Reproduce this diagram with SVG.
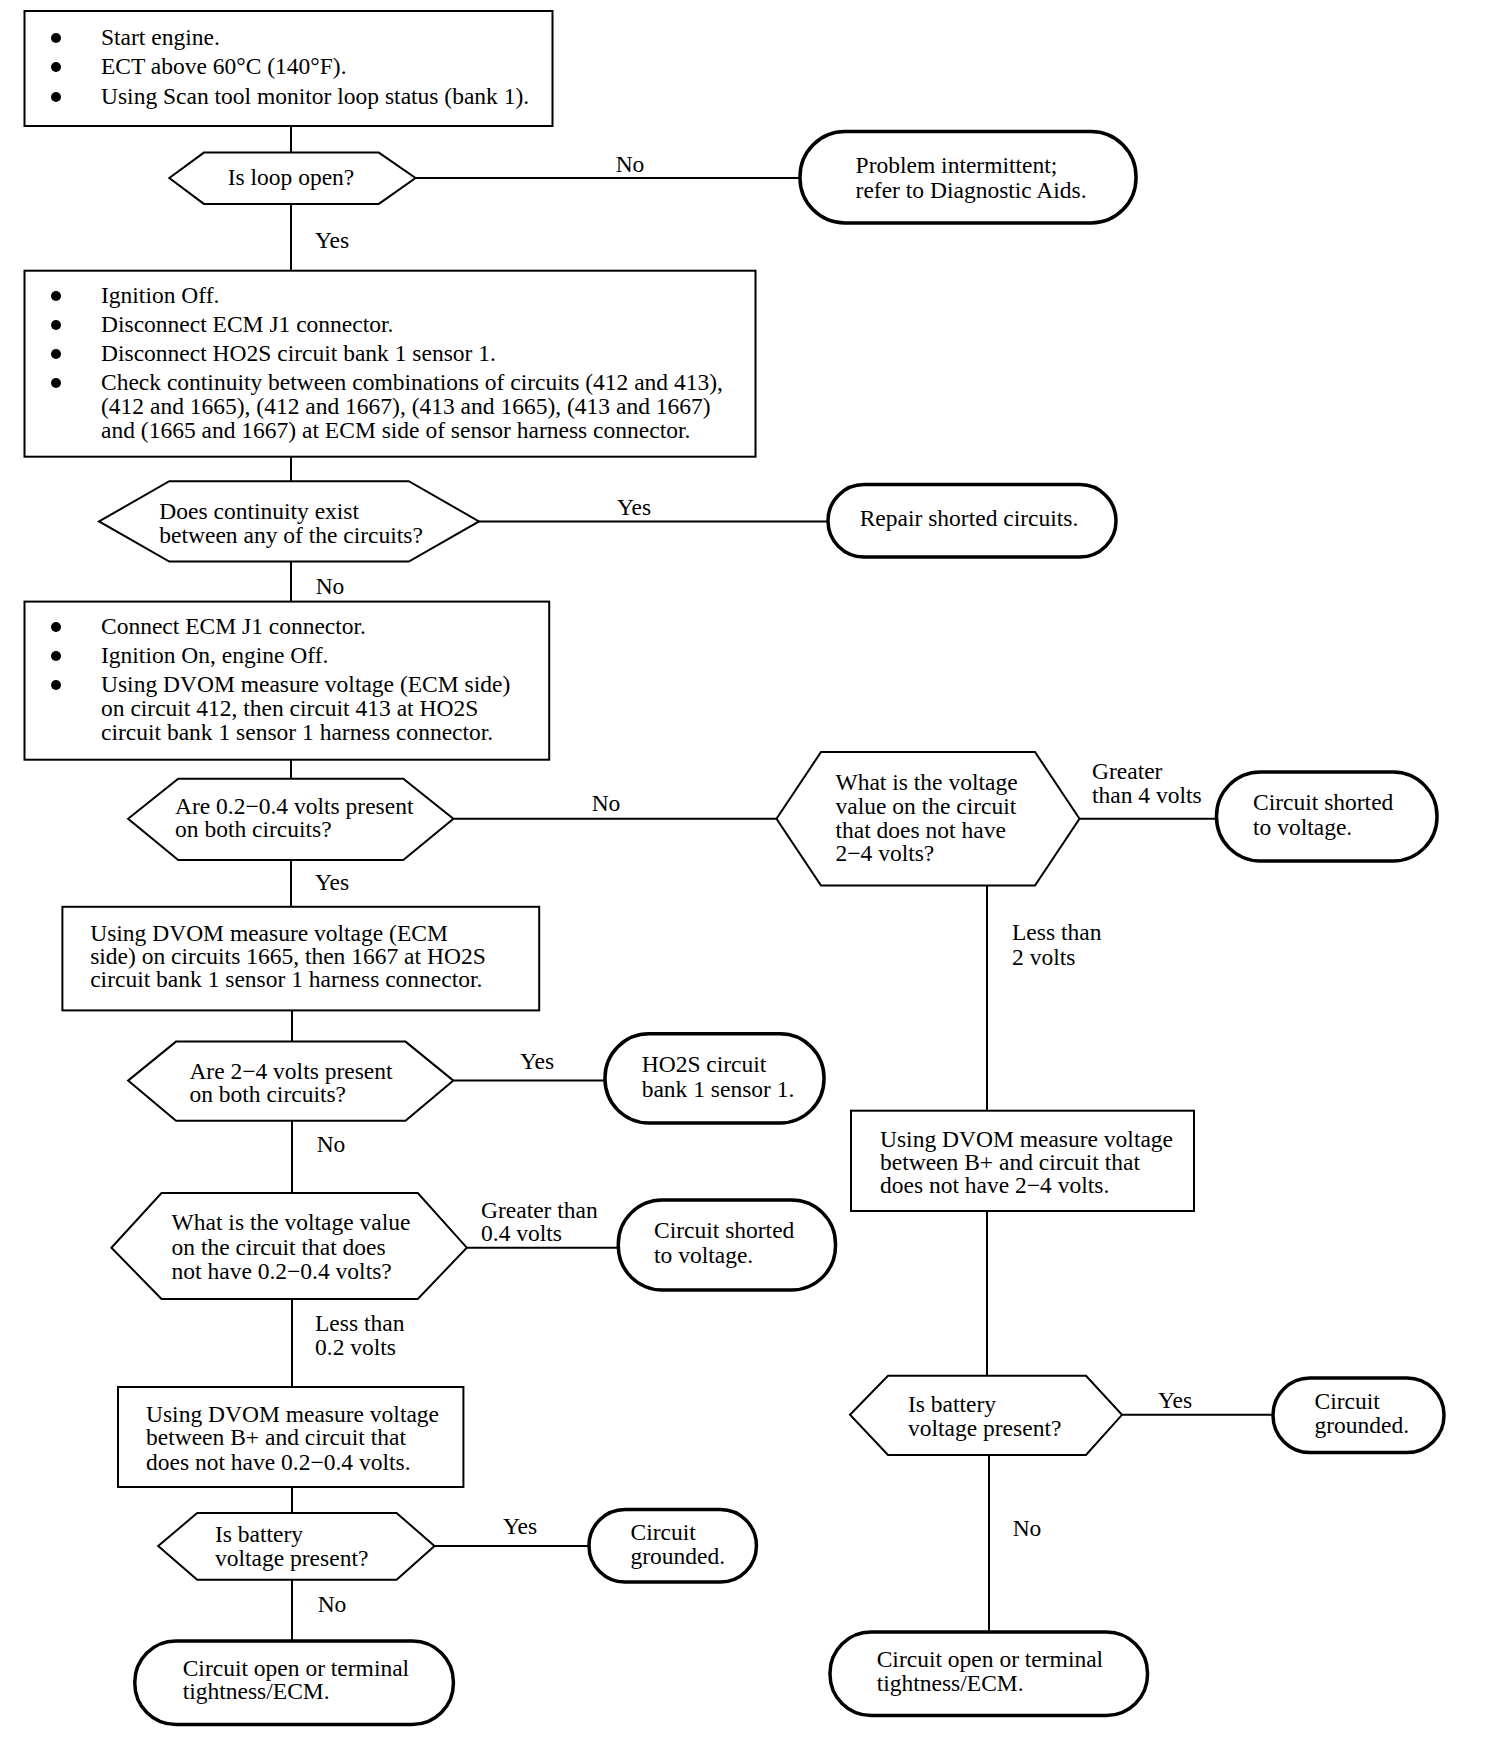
<svg xmlns="http://www.w3.org/2000/svg" width="1504" height="1754" viewBox="0 0 1504 1754">
<style>
.box{fill:#fff;stroke:#000;stroke-width:2}
.hex{fill:#fff;stroke:#000;stroke-width:2}
.term{fill:#fff;stroke:#000;stroke-width:3.5}
.ln{fill:none;stroke:#000;stroke-width:2}
text{font-family:"Liberation Serif","Times New Roman",serif;font-size:23.5px;fill:#000}
.c{text-anchor:middle}
.b{fill:#000}
</style>
<rect width="1504" height="1754" fill="#fff"/>
<g id="connectors">
<path class="ln" d="M291 126V153M291 204V271M415.5 178H800M291 457V481M479 521.4H828M291 561.5V602M291 760V779M453.4 818.8H776.5M1079.5 818.8H1216.5M987 885.6V1111M987 1211V1376M1122 1414.8H1273M989 1455V1632M291 860V907M292 1010V1042M453.4 1080.6H605M292 1121V1193M466.8 1247.7H618M292 1299V1387M292 1487V1513M434.5 1546H589M292 1580V1641"/>
<text x="630" y="172" class="c">No</text>
<text x="332" y="248" class="c">Yes</text>
<text x="634" y="515" class="c">Yes</text>
<text x="330" y="594" class="c">No</text>
<text x="606" y="811" class="c">No</text>
<text x="1092" y="779">Greater</text>
<text x="1092" y="803">than 4 volts</text>
<text x="1012" y="940">Less than</text>
<text x="1012" y="965">2 volts</text>
<text x="1175" y="1408" class="c">Yes</text>
<text x="1027" y="1536" class="c">No</text>
<text x="332" y="890" class="c">Yes</text>
<text x="537" y="1069" class="c">Yes</text>
<text x="331" y="1152" class="c">No</text>
<text x="481" y="1218">Greater than</text>
<text x="481" y="1241">0.4 volts</text>
<text x="315" y="1331">Less than</text>
<text x="315" y="1355">0.2 volts</text>
<text x="520" y="1534" class="c">Yes</text>
<text x="332" y="1612" class="c">No</text>
</g>
<g id="n1">
<rect class="box" x="24.5" y="11" width="528" height="115"/>
<circle class="b" cx="56" cy="38" r="5"/><circle class="b" cx="56" cy="67" r="5"/><circle class="b" cx="56" cy="97" r="5"/>
<text x="101" y="45">Start engine.</text>
<text x="101" y="74">ECT above 60°C (140°F).</text>
<text x="101" y="104">Using Scan tool monitor loop status (bank 1).</text>
</g>
<g id="n2">
<polygon class="hex" points="169.3,178 203.9,152.6 378.8,152.6 415.5,178 378.8,203.9 203.9,203.9"/>
<text x="291" y="185" class="c">Is loop open?</text>
</g>
<g id="n3">
<rect class="term" x="800" y="131.5" width="336" height="91.5" rx="45" ry="45"/>
<text x="855.6" y="173">Problem intermittent;</text>
<text x="855.6" y="197.5">refer to Diagnostic Aids.</text>
</g>
<g id="n4">
<rect class="box" x="24.5" y="270.7" width="731" height="186"/>
<circle class="b" cx="56" cy="296" r="5"/><circle class="b" cx="56" cy="325" r="5"/><circle class="b" cx="56" cy="354" r="5"/><circle class="b" cx="56" cy="383" r="5"/>
<text x="101" y="303">Ignition Off.</text>
<text x="101" y="332">Disconnect ECM J1 connector.</text>
<text x="101" y="361">Disconnect HO2S circuit bank 1 sensor 1.</text>
<text x="101" y="390">Check continuity between combinations of circuits (412 and 413),</text>
<text x="101" y="414">(412 and 1665), (412 and 1667), (413 and 1665), (413 and 1667)</text>
<text x="101" y="438">and (1665 and 1667) at ECM side of sensor harness connector.</text>
</g>
<g id="n5">
<polygon class="hex" points="99.1,521.4 169.3,481.2 408.8,481.2 479,521.4 408.8,561.5 169.3,561.5"/>
<text x="159.3" y="519.4">Does continuity exist</text>
<text x="159.3" y="542.8">between any of the circuits?</text>
</g>
<g id="n6">
<rect class="term" x="828" y="484.6" width="288" height="72.4" rx="36" ry="36"/>
<text x="969" y="526" class="c">Repair shorted circuits.</text>
</g>
<g id="n7">
<rect class="box" x="24.5" y="601.6" width="524.7" height="158.1"/>
<circle class="b" cx="56" cy="627" r="5"/><circle class="b" cx="56" cy="656" r="5"/><circle class="b" cx="56" cy="685" r="5"/>
<text x="101" y="634">Connect ECM J1 connector.</text>
<text x="101" y="663">Ignition On, engine Off.</text>
<text x="101" y="692">Using DVOM measure voltage (ECM side)</text>
<text x="101" y="716">on circuit 412, then circuit 413 at HO2S</text>
<text x="101" y="740">circuit bank 1 sensor 1 harness connector.</text>
</g>
<g id="n8">
<polygon class="hex" points="128.1,818.8 178.2,778.7 403.3,778.7 453.4,818.8 403.3,860 178.2,860"/>
<text x="175" y="813.5">Are 0.2−0.4 volts present</text>
<text x="175" y="837">on both circuits?</text>
</g>
<g id="n9">
<polygon class="hex" points="776.5,818.8 821,752 1035,752 1079.5,818.8 1035,885.6 821,885.6"/>
<text x="835.5" y="790">What is the voltage</text>
<text x="835.5" y="813.5">value on the circuit</text>
<text x="835.5" y="838">that does not have</text>
<text x="835.5" y="861.4">2−4 volts?</text>
</g>
<g id="n10">
<rect class="term" x="1216.5" y="772" width="220.5" height="89" rx="44" ry="44"/>
<text x="1253" y="810">Circuit shorted</text>
<text x="1253" y="834.7">to voltage.</text>
</g>
<g id="n11">
<rect class="box" x="62.4" y="906.8" width="476.8" height="103.6"/>
<text x="90.2" y="940.5">Using DVOM measure voltage (ECM</text>
<text x="90.2" y="964">side) on circuits 1665, then 1667 at HO2S</text>
<text x="90.2" y="987.3">circuit bank 1 sensor 1 harness connector.</text>
</g>
<g id="n12">
<polygon class="hex" points="128.1,1080.6 176,1041.6 405.5,1041.6 453.4,1080.6 405.5,1120.7 176,1120.7"/>
<text x="189.4" y="1078.7">Are 2−4 volts present</text>
<text x="189.4" y="1102">on both circuits?</text>
</g>
<g id="n13">
<rect class="term" x="605" y="1033.8" width="219" height="89.2" rx="44" ry="44"/>
<text x="641.7" y="1072">HO2S circuit</text>
<text x="641.7" y="1096.5">bank 1 sensor 1.</text>
</g>
<g id="n14">
<polygon class="hex" points="111.4,1247.7 161.5,1193 417.8,1193 466.8,1247.7 417.8,1299 161.5,1299"/>
<text x="171.6" y="1230">What is the voltage value</text>
<text x="171.6" y="1254.7">on the circuit that does</text>
<text x="171.6" y="1279">not have 0.2−0.4 volts?</text>
</g>
<g id="n15">
<rect class="term" x="618.3" y="1200" width="217.2" height="90" rx="44" ry="44"/>
<text x="654" y="1238">Circuit shorted</text>
<text x="654" y="1262.5">to voltage.</text>
</g>
<g id="n16">
<rect class="box" x="118" y="1387" width="345.4" height="100"/>
<text x="146" y="1421.8">Using DVOM measure voltage</text>
<text x="146" y="1445">between B+ and circuit that</text>
<text x="146" y="1469.7">does not have 0.2−0.4 volts.</text>
</g>
<g id="n17">
<polygon class="hex" points="158.2,1546 197.2,1513 396.6,1513 434.5,1546 396.6,1579.7 197.2,1579.7"/>
<text x="215" y="1542">Is battery</text>
<text x="215" y="1565.5">voltage present?</text>
</g>
<g id="n18">
<rect class="term" x="589" y="1509.5" width="167.4" height="72.5" rx="36" ry="36"/>
<text x="630.5" y="1540">Circuit</text>
<text x="630.5" y="1564">grounded.</text>
</g>
<g id="n19">
<rect class="term" x="134.8" y="1641" width="318.6" height="83.5" rx="41" ry="41"/>
<text x="182.7" y="1675.8">Circuit open or terminal</text>
<text x="182.7" y="1699">tightness/ECM.</text>
</g>
<g id="n20">
<rect class="box" x="851" y="1110.7" width="343" height="100.3"/>
<text x="880" y="1146.6">Using DVOM measure voltage</text>
<text x="880" y="1170">between B+ and circuit that</text>
<text x="880" y="1193.4">does not have 2−4 volts.</text>
</g>
<g id="n21">
<polygon class="hex" points="850,1414.8 888,1375.8 1086,1375.8 1122,1414.8 1086,1455 888,1455"/>
<text x="908" y="1411.8">Is battery</text>
<text x="908" y="1436.3">voltage present?</text>
</g>
<g id="n22">
<rect class="term" x="1273" y="1378" width="171" height="74.6" rx="37" ry="37"/>
<text x="1314.5" y="1408.5">Circuit</text>
<text x="1314.5" y="1433">grounded.</text>
</g>
<g id="n23">
<rect class="term" x="830" y="1632" width="317.5" height="83.6" rx="41" ry="41"/>
<text x="876.7" y="1667">Circuit open or terminal</text>
<text x="876.7" y="1691">tightness/ECM.</text>
</g>
</svg>
